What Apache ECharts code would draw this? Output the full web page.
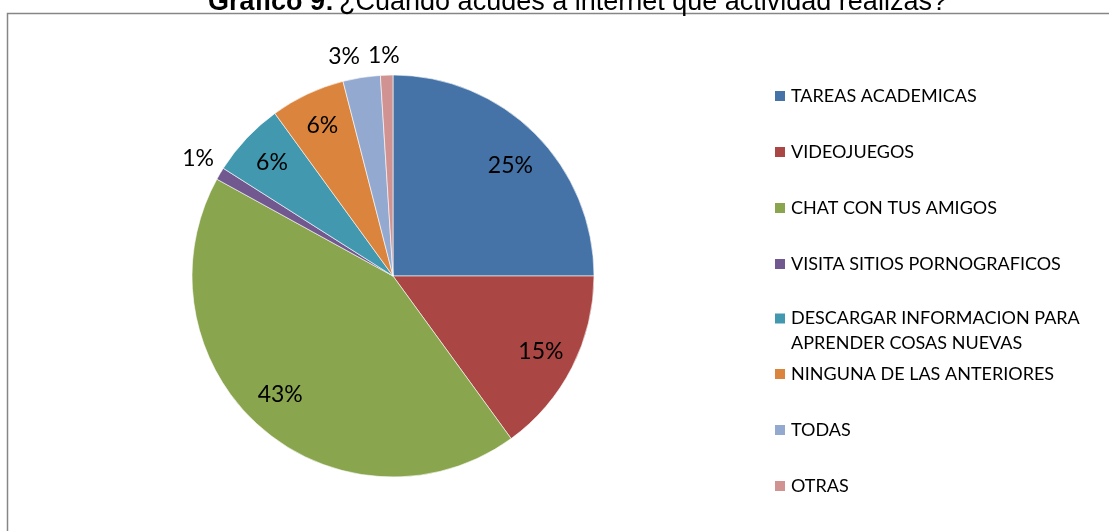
<!DOCTYPE html>
<html>
<head>
<meta charset="utf-8">
<script src="https://cdn.jsdelivr.net/npm/echarts@6/dist/echarts.min.js"></script>
<style>
  html, body { margin: 0; padding: 0; background: #fff; }
  #main { width: 1109px; height: 531px; }
</style>
</head>
<body>
<div id="main"></div>
<script>
// datos del grafico (porcentajes)
var categorias = [
    'TAREAS ACADEMICAS',
    'VIDEOJUEGOS',
    'CHAT CON TUS AMIGOS',
    'VISITA SITIOS PORNOGRAFICOS',
    'DESCARGAR INFORMACION PARA APRENDER COSAS NUEVAS',
    'NINGUNA DE LAS ANTERIORES',
    'TODAS',
    'OTRAS'
];
var valores = [25, 15, 43, 1, 6, 6, 3, 1];
var colores = ['#4572A7', '#AA4643', '#89A54E', '#71588F', '#4198AF', '#DB843D', '#93A9CF', '#D19392'];
// etiquetas que van fuera del pastel
var fuera = [false, false, false, true, false, false, true, true];

var chart = echarts.init(document.getElementById('main'));

var labelFont = {
    fontFamily: 'Lato',
    fontSize: 23,
    color: '#000'
};

// pequeños ajustes de posicion de etiquetas (como en Excel)
var ajustes = {
    'TODAS': [-13, 8],
    'OTRAS': [-2, 9],
    'VISITA SITIOS PORNOGRAFICOS': [3, 0],
    'TAREAS ACADEMICAS': [0, 7],
    'CHAT CON TUS AMIGOS': [-3, -6]
};

var mainData = [];
var dentroData = [];
var fueraData = [];
for (var i = 0; i < categorias.length; i++) {
    var off = ajustes[categorias[i]] || [0, 0];
    mainData.push({ name: categorias[i], value: valores[i], itemStyle: { color: colores[i] } });
    dentroData.push({ name: categorias[i], value: valores[i], label: { show: !fuera[i], offset: off } });
    fueraData.push({ name: categorias[i], value: valores[i], label: { show: fuera[i], offset: off } });
}

var legendText = {
    fontFamily: 'Lato',
    fontSize: 18,
    color: '#000',
    lineHeight: 20
};

var option = {
    backgroundColor: '#fff',
    animation: false,
    title: {
        text: '{b|Gráfico 9:} {n|¿Cuando acudes a internet que actividad realizas?}',
        left: 203,
        top: -16,
        textStyle: {
            rich: {
                b: { fontFamily: 'Liberation Sans', fontWeight: 'bold', fontSize: 27, color: '#000' },
                n: { fontFamily: 'Liberation Sans', fontWeight: 'normal', fontSize: 27, color: '#000' }
            }
        }
    },
    graphic: [{
        type: 'rect',
        shape: { x: 7.5, y: 13.5, width: 1200, height: 600 },
        style: { fill: 'none', stroke: '#868686', lineWidth: 1.5 },
        silent: true
    }],
    legend: [{
        orient: 'vertical',
        left: 773,
        top: 86,
        padding: 0,
        itemWidth: 12,
        itemHeight: 12,
        itemGap: 36,
        icon: 'rect',
        textStyle: legendText,
        data: categorias.slice(0, 4)
    }, {
        orient: 'vertical',
        left: 773,
        top: 281,
        padding: 0,
        itemWidth: 12,
        itemHeight: 12,
        icon: 'rect',
        formatter: function (name) {
            return ' \nDESCARGAR INFORMACION PARA\nAPRENDER COSAS NUEVAS';
        },
        textStyle: {
            fontFamily: 'Lato',
            fontSize: 18,
            color: '#000',
            lineHeight: 25
        },
        data: categorias.slice(4, 5)
    }, {
        orient: 'vertical',
        left: 773,
        top: 364,
        padding: 0,
        itemWidth: 12,
        itemHeight: 12,
        itemGap: 36,
        icon: 'rect',
        textStyle: legendText,
        data: categorias.slice(5)
    }],
    series: [{
        name: 'actividad',
        type: 'pie',
        center: [393, 276],
        radius: 201,
        startAngle: 90,
        clockwise: true,
        label: { show: false },
        labelLine: { show: false },
        itemStyle: { borderColor: '#ffffff', borderWidth: 0.6 },
        emphasis: { disabled: true },
        data: mainData
    }, {
        // capa transparente para las etiquetas internas
        name: 'dentro',
        type: 'pie',
        center: [393, 276],
        radius: [125, 201],
        startAngle: 90,
        silent: true,
        itemStyle: { color: 'rgba(0,0,0,0)' },
        label: Object.assign({ position: 'inside', formatter: '{d}%' }, labelFont),
        labelLine: { show: false },
        emphasis: { disabled: true },
        data: dentroData
    }, {
        // capa transparente para las etiquetas externas
        name: 'fuera',
        type: 'pie',
        center: [393, 276],
        radius: [215, 239],
        startAngle: 90,
        silent: true,
        itemStyle: { color: 'rgba(0,0,0,0)' },
        label: Object.assign({ position: 'inside', formatter: '{d}%' }, labelFont),
        labelLine: { show: false },
        emphasis: { disabled: true },
        data: fueraData
    }]
};

chart.setOption(option);
</script>
</body>
</html>
